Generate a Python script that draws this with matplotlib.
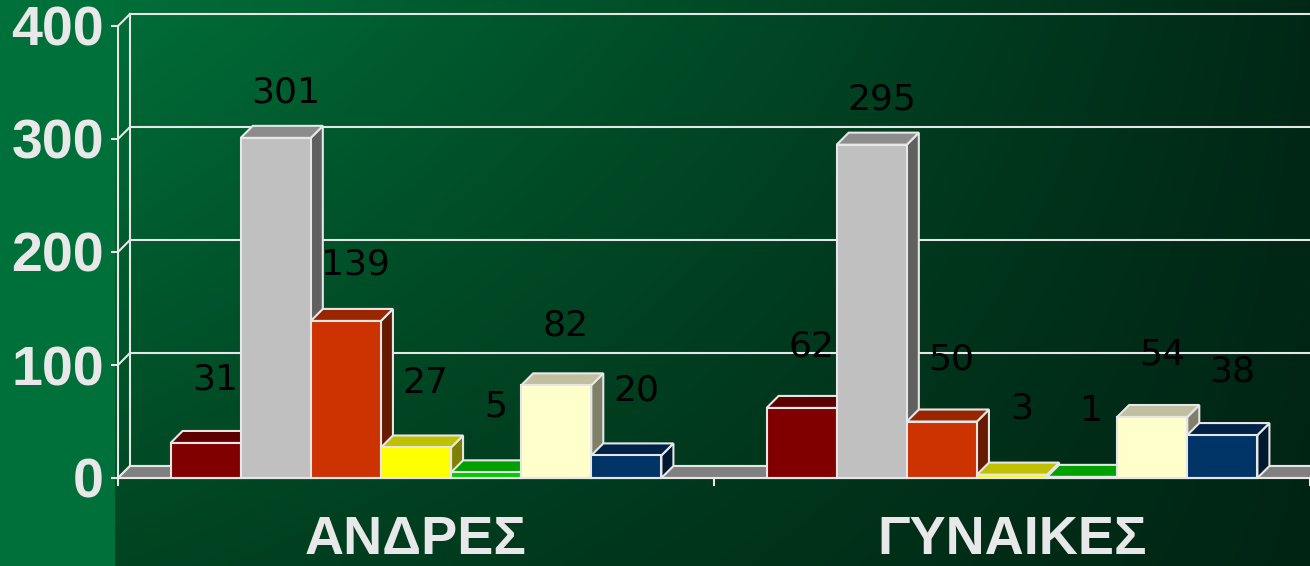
import numpy as np
import matplotlib.pyplot as plt
from matplotlib.patches import Polygon

# data
groups = ['ΑΝΔΡΕΣ', 'ΓΥΝΑΙΚΕΣ']
men = [31, 301, 139, 27, 5, 82, 20]
women = [62, 295, 50, 3, 1, 54, 38]
front_colors = ['#800000', '#C0C0C0', '#CC3300', '#FFFF00', '#00CC00', '#FFFFCC', '#003366']
top_colors = ['#5C0000', '#8C8C8C', '#992600', '#C0C000', '#00A000', '#C0C0A0', '#002248']
side_colors = ['#400000', '#606060', '#661A00', '#808000', '#006600', '#80806A', '#001830']
yticks = [0, 100, 200, 300, 400]

W, H = 1310, 566
fig = plt.figure(figsize=(W / 100, H / 100), dpi=100)
fig.patch.set_facecolor('#00703A')

# gradient background of chart area
bg = fig.add_axes([115 / W, 0, 1 - 115 / W, 1])
tl = np.array([0x00, 0x6E, 0x38]) / 255
bl = np.array([0x00, 0x44, 0x22]) / 255
tr = np.array([0x00, 0x28, 0x16]) / 255
br = np.array([0x00, 0x24, 0x14]) / 255
u = np.linspace(0, 1, 200)[None, :, None]
t = np.linspace(0, 1, 100)[:, None, None]
grad = (1 - t) * ((1 - u) * tl + u * tr) + t * ((1 - u) * bl + u * br)
bg.imshow(grad, extent=[0, 1, 0, 1], aspect='auto', interpolation='bilinear')
bg.axis('off')

ax = fig.add_axes([118 / W, (H - 478) / H, (W - 118) / W, 452 / H])
ax.set_facecolor('none')
ax.set_xlim(-0.5, 1.5)
ax.set_ylim(0, 400)
for s in ax.spines.values():
    s.set_visible(False)

px_x = 596.0      # pixels per x unit
px_y = 452 / 400  # pixels per y unit
dx = 12 / px_x
dy = 12 / px_y
edge = '#E6E6E6'
lw = 1.5

# back wall grid and left wall
for v in yticks:
    ax.plot([-0.5 + dx, 1.5], [v + dy, v + dy], color=edge, lw=lw, clip_on=False, zorder=1)
    ax.plot([-0.5, -0.5 + dx], [v, v + dy], color=edge, lw=lw, clip_on=False, zorder=1)
ax.plot([-0.5 + dx, -0.5 + dx], [dy, 400 + dy], color=edge, lw=lw, clip_on=False, zorder=1)
ax.plot([-0.5, -0.5], [0, 400], color=edge, lw=lw, clip_on=False, zorder=1)

# floor
floor = Polygon([(-0.5, 0), (1.5, 0), (1.5 + dx, dy), (-0.5 + dx, dy)],
                closed=True, fc='#808080', ec=edge, lw=lw, clip_on=False, zorder=2)
ax.add_patch(floor)

# bars
w = 1 / 8.5
z = 3
for g, vals in enumerate([men, women]):
    for s, v in enumerate(vals):
        x0 = g - 0.5 + 0.75 * w + s * w
        side = Polygon([(x0 + w, 0), (x0 + w + dx, dy), (x0 + w + dx, v + dy), (x0 + w, v)],
                       closed=True, fc=side_colors[s], ec=edge, lw=lw, clip_on=False, zorder=z)
        top = Polygon([(x0, v), (x0 + w, v), (x0 + w + dx, v + dy), (x0 + dx, v + dy)],
                      closed=True, fc=top_colors[s], ec=edge, lw=lw, clip_on=False, zorder=z)
        ax.add_patch(side)
        ax.add_patch(top)
        ax.bar(x0, v, width=w, align='edge', color=front_colors[s], edgecolor=edge,
               linewidth=lw, zorder=z + 0.5, clip_on=False)
        # label offset shrinks a little for tall bars, as in the original
        off = (66 - 0.07 * v) * 0.72
        ax.annotate(str(v), (x0 + w / 2, v), xytext=(7, off), textcoords='offset points',
                    ha='center', va='center', fontsize=26, color='black',
                    family='DejaVu Sans', zorder=20)
        z += 1

ax.plot([-0.5, 1.5], [0, 0], color=edge, lw=lw, clip_on=False, zorder=z + 1)

# y axis ticks
ax.set_yticks(yticks)
ax.set_yticklabels([str(t) for t in yticks], fontsize=40, fontweight='bold',
                   color='#E8E8E8', family='Liberation Sans')
ax.tick_params(axis='y', length=5, width=lw, color=edge, pad=5)

# category ticks and labels
ax.set_xticks([])
for xt in [-0.5, 0.5, 1.5]:
    ax.plot([xt, xt], [0, -7 / px_y], color=edge, lw=lw, clip_on=False, zorder=z + 1)
for g, name in enumerate(groups):
    ax.annotate(name, (g, 0), xytext=(0, -63), textcoords='offset points',
                ha='center', va='bottom', fontsize=39, fontweight='bold',
                color='#E8E8E8', family='Liberation Sans',
                annotation_clip=False)

fig.savefig('out.png', dpi=100, facecolor=fig.get_facecolor())
